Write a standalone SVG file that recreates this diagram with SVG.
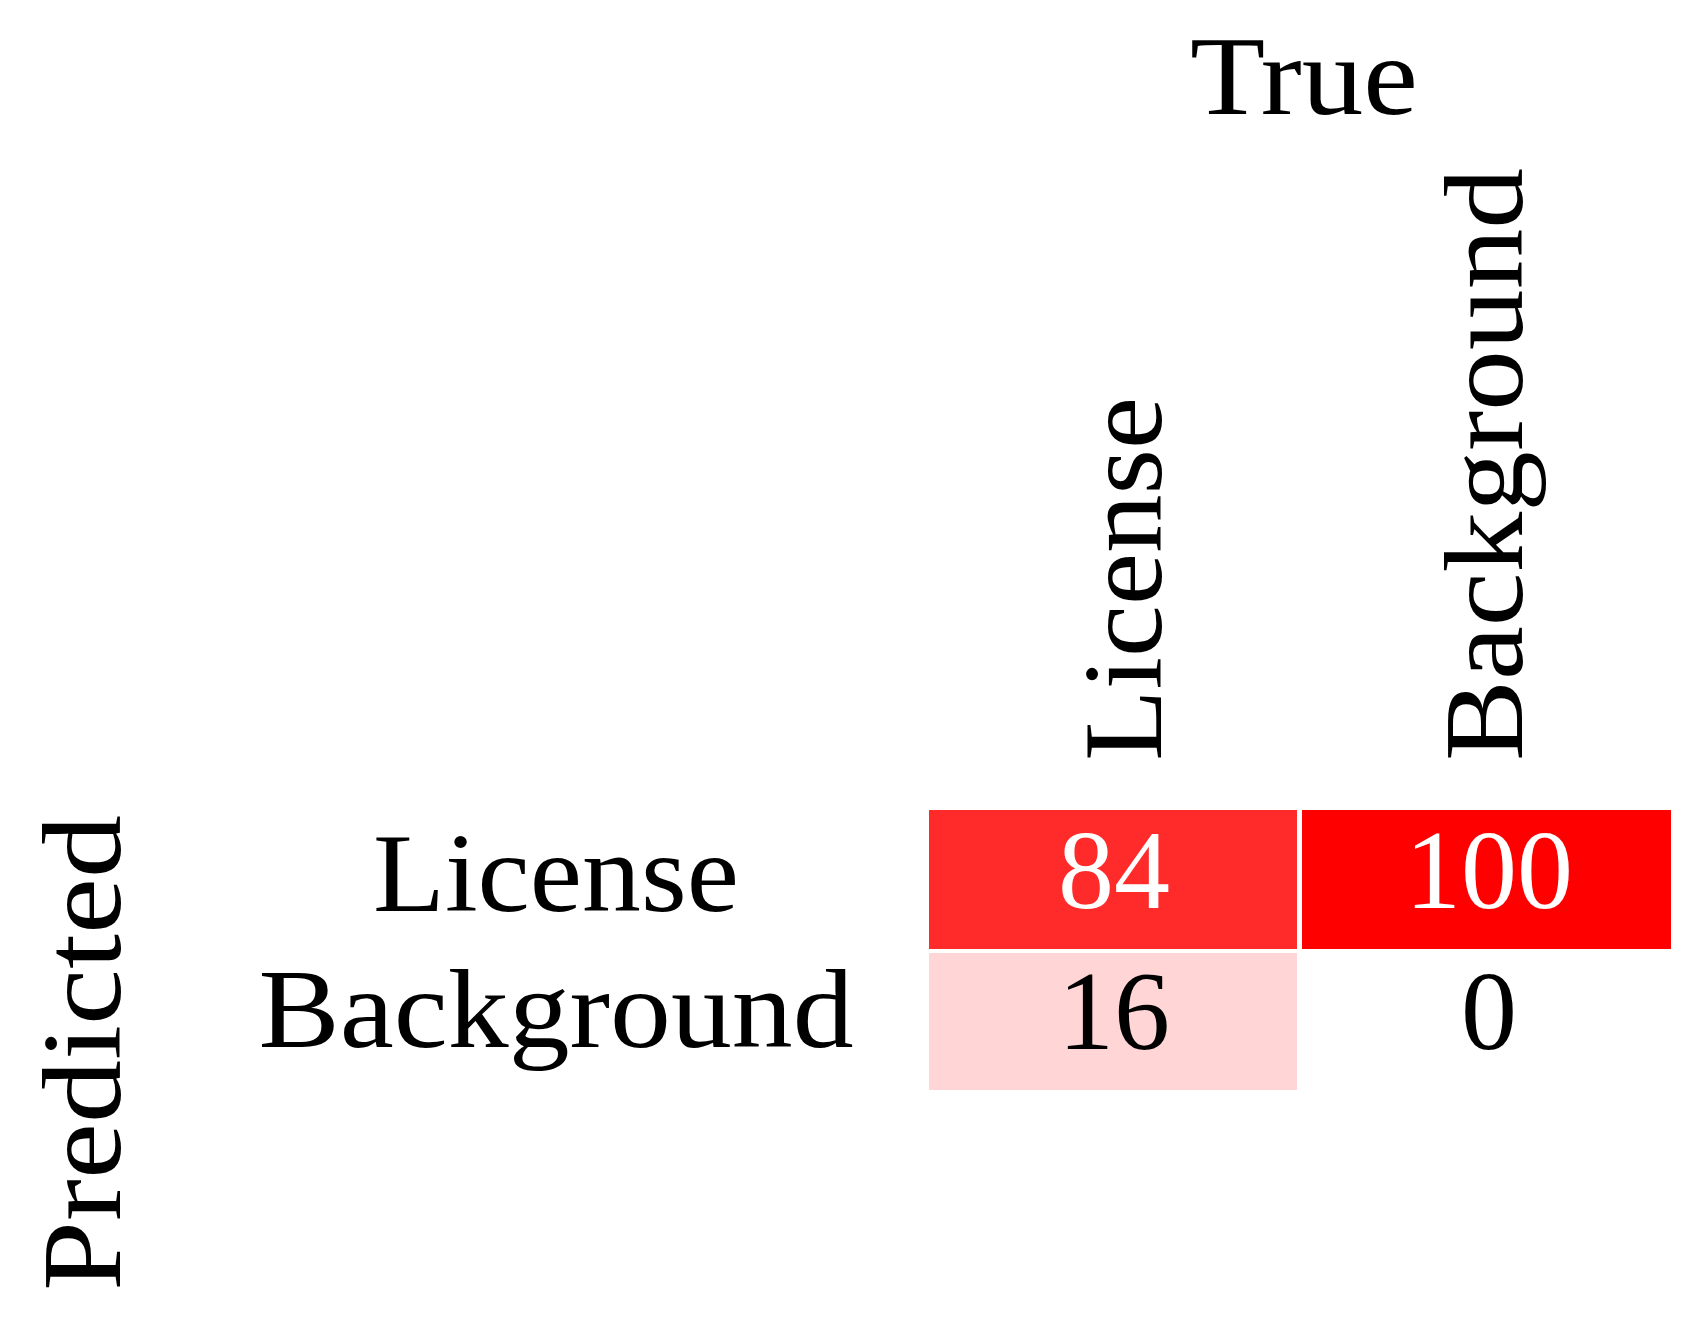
<svg xmlns="http://www.w3.org/2000/svg" width="1695" height="1328" viewBox="0 0 1695 1328">
<style>
text{font-family:"Liberation Serif","DejaVu Serif",serif;font-size:112px;fill:#000}
.w{fill:#fff}
.c{text-anchor:middle}
</style>
<rect width="1695" height="1328" fill="#fff"/>
<g id="title-true"><text x="1304" y="114" class="c" textLength="228" lengthAdjust="spacingAndGlyphs">True</text></g>
<g id="col-license"><text transform="translate(1161,761) rotate(-90)" textLength="364" lengthAdjust="spacingAndGlyphs">License</text></g>
<g id="col-background"><text transform="translate(1522,761) rotate(-90)" textLength="593" lengthAdjust="spacingAndGlyphs">Background</text></g>
<g id="label-predicted"><text transform="translate(120,1291) rotate(-90)" textLength="476" lengthAdjust="spacingAndGlyphs">Predicted</text></g>
<g id="row-license"><text x="556" y="911" class="c" textLength="366" lengthAdjust="spacingAndGlyphs">License</text></g>
<g id="row-background"><text x="556" y="1047" class="c" textLength="595" lengthAdjust="spacingAndGlyphs">Background</text></g>
<g id="cell-11"><rect x="929" y="810" width="368" height="139" fill="#ff2a2a"/><text x="1114" y="908" class="c w">84</text></g>
<g id="cell-12"><rect x="1302" y="810" width="369" height="139" fill="#ff0000"/><text x="1489" y="908" class="c w">100</text></g>
<g id="cell-21"><rect x="929" y="953" width="368" height="137" fill="#ffd5d5"/><text x="1114" y="1049" class="c">16</text></g>
<g id="cell-22"><text x="1489" y="1049" class="c">0</text></g>
<g id="connectors"/>
</svg>
